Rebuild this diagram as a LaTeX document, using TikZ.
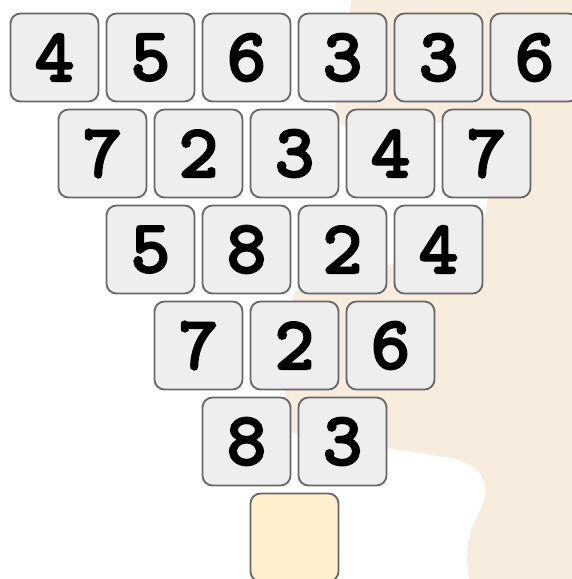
\documentclass[tikz,border=0pt]{standalone}
\usepackage{fontspec}
\usepackage{xcolor}
\usepackage{tikz}
\newfontfamily\tilefont{lmmono10-regular.otf}[FakeBold=4]
\definecolor{blobfill}{RGB}{248,236,222}
\definecolor{tilefill}{RGB}{238,238,238}
\definecolor{tileline}{RGB}{102,102,102}
\definecolor{goalfill}{RGB}{255,240,205}

\begin{document}
\begin{tikzpicture}[
  x=1pt, y=-1pt,
  tile/.style={draw=tileline, line width=1.8pt, fill=tilefill, rounded corners=10pt,
               minimum width=88pt, minimum height=88pt, inner sep=0pt,
               font=\fontsize{74}{74}\selectfont\tilefont},
  goal/.style={tile, fill=goalfill}
]
\useasboundingbox (0,0) rectangle (572,579);

% background blob
\fill[blobfill] (352,-5) -- (580,-5) -- (580,585) -- (470,585)
  .. controls (465,560) and (466,535) .. (478,515)
  .. controls (492,490) and (486,466) .. (455,459)
  .. controls (420,452) and (330,440) .. (290,432)
  .. controls (281,400) and (283,340) .. (295,291)
  .. controls (340,276) and (470,252) .. (485,215)
  .. controls (495,188) and (470,128) .. (440,123)
  .. controls (400,116) and (356,136) .. (343,126)
  .. controls (334,116) and (334,96) .. (337,80)
  .. controls (341,50) and (350,20) .. (352,-5) -- cycle;

% number pyramid
\foreach \row [count=\r from 0] in {{4,5,6,3,3,6},{7,2,3,4,7},{5,8,2,4},{7,2,6},{8,3}}
  \foreach \v [count=\c from 0] in \row
    \node[tile] (t-\r-\c) at ({54.5+48*\r+96*\c},{57.5+96*\r}) {\v};
\node[goal] (t-5-0) at (294.5,537.5) {};
\end{tikzpicture}
\end{document}
